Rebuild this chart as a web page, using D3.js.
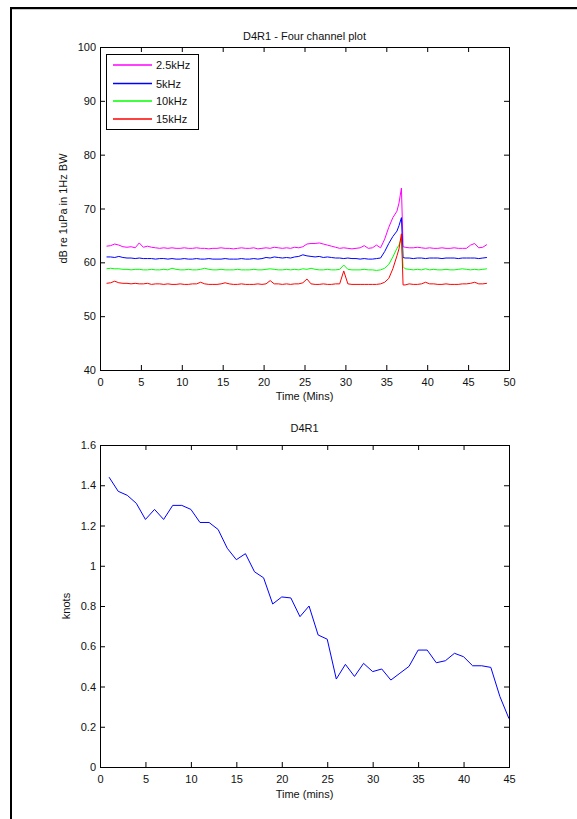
<!DOCTYPE html>
<html><head><meta charset="utf-8">
<script src="https://cdn.jsdelivr.net/npm/d3@7"></script>
<style>
html,body{margin:0;padding:0;background:#fff;}
svg{display:block;}
text{font-family:"Liberation Sans",Arial,Helvetica,sans-serif;fill:#111;}
</style></head><body>
<svg id="chart" width="577" height="819"></svg>
<script>
// ---------- Top plot data ----------
const topTitle = "D4R1 - Four channel plot";
const seriesNames = ["2.5kHz", "5kHz", "10kHz", "15kHz"];
const seriesColors = ["#ff00ff", "#0000ff", "#00ff00", "#ff0000"];
// sample times (minutes): regular grid, finer points around the spike
const timeA = d3.range(0.8, 36.31, 0.5);
const timeSpike = [36.55, 36.85, 37.05];
const timeB = d3.range(37.3, 47.31, 0.5);
const timeTop = timeA.concat(timeSpike, timeB);

const pink = [63.0,63.1,63.4,63.2,62.9,62.8,62.9,62.7,63.6,62.8,63.0,62.8,62.7,62.6,62.7,62.6,62.7,62.6,62.6,62.7,
  62.6,62.6,62.7,62.6,62.6,62.5,62.6,62.6,62.7,62.6,62.6,62.5,62.6,62.7,62.6,62.6,62.7,62.5,62.6,62.7,
  62.6,62.8,62.7,62.6,62.7,62.6,62.8,62.7,62.9,63.4,63.5,63.5,63.6,63.4,63.2,63.0,62.8,62.6,62.7,62.6,
  62.5,62.6,62.7,63.1,62.6,62.7,63.2,62.7,64.3,66.5,68.3,69.5,
  71.0,73.8,62.9,
  62.8,62.7,62.7,62.8,62.7,62.6,62.7,62.6,62.6,62.7,62.6,62.6,62.7,62.6,62.6,62.6,63.2,63.5,62.7,62.8,63.3];
const blue = [61.0,61.0,60.9,61.1,60.9,60.8,60.8,60.7,60.8,60.7,60.7,60.7,60.6,60.7,60.7,60.6,60.7,60.6,60.6,60.7,
  60.6,60.6,60.7,60.6,60.6,60.7,60.6,60.6,60.6,60.7,60.6,60.6,60.6,60.7,60.6,60.6,60.7,60.6,60.7,60.9,
  60.8,61.0,60.9,60.8,60.9,60.8,61.0,61.1,61.4,61.2,61.1,61.0,61.1,60.9,61.0,60.9,60.8,60.8,60.7,60.8,
  60.7,60.7,60.6,60.7,60.6,60.6,60.7,60.8,62.0,63.5,64.8,65.8,
  66.8,68.3,60.9,
  60.8,60.8,60.7,60.8,60.8,60.7,60.8,60.8,60.8,60.7,60.8,60.8,60.8,60.7,60.8,60.8,60.8,60.8,60.7,60.8,60.9];
const green = [58.8,58.9,58.8,58.8,58.7,58.7,58.6,58.7,58.7,58.6,58.6,58.7,58.6,58.6,58.7,58.6,58.9,58.7,58.6,58.6,
  58.7,58.6,58.6,58.7,58.9,58.7,58.6,58.6,58.7,58.6,58.6,58.6,58.7,58.6,58.6,58.6,58.7,58.6,58.6,58.7,
  58.8,58.7,58.6,58.6,58.7,58.6,58.7,58.6,58.8,58.7,58.9,58.7,58.6,58.6,58.7,58.6,58.6,58.7,59.5,58.7,
  58.6,58.6,58.6,58.7,58.6,58.6,58.5,58.6,58.9,59.6,61.0,62.6,
  63.2,64.5,59.2,
  58.8,58.7,58.6,58.7,58.6,58.8,58.6,58.7,58.6,58.6,58.7,58.6,58.6,58.7,58.8,58.7,58.6,58.7,58.6,58.7,58.8];
const red = [56.1,56.2,56.5,56.2,56.1,56.1,56.0,56.1,56.0,56.0,56.1,55.9,56.0,56.0,55.9,56.0,55.9,55.9,56.0,55.9,
  55.9,56.0,56.0,56.3,56.0,55.9,55.9,55.9,56.0,56.2,56.0,55.9,55.9,56.0,55.9,55.9,55.9,56.0,55.9,56.0,
  56.6,56.0,56.0,55.9,56.0,55.9,56.0,56.0,56.2,56.9,56.0,55.9,55.9,56.0,55.9,55.9,56.0,56.0,58.4,56.0,
  55.9,55.9,55.9,55.9,55.9,55.9,55.9,56.0,56.3,57.0,58.8,61.2,
  62.5,65.3,55.8,
  55.8,56.0,55.9,55.9,56.0,56.3,56.0,56.0,55.9,55.9,56.0,55.9,55.9,55.9,56.0,56.0,56.1,56.3,56.0,56.0,56.1];
const topSeries = [pink, blue, green, red];
const topXTicks = [0,5,10,15,20,25,30,35,40,45,50];
const topYTicks = [40,50,60,70,80,90,100];

// ---------- Bottom plot data ----------
const bottomTitle = "D4R1";
const timeBottom = [1,2,3,4,5,6,7,8,9,10,11,12,13,14,15,16,17,18,19,20,21,22,23,24,25,26,27,28,29,30,31,32,33,34,35,36,37,38,39,40,41,42,43,44,45];
const knots = [1.44,1.37,1.35,1.31,1.23,1.28,1.23,1.30,1.30,1.28,1.215,1.215,1.18,1.087,1.03,1.06,0.97,0.94,0.81,0.845,
  0.84,0.747,0.80,0.656,0.635,0.437,0.51,0.45,0.515,0.474,0.487,0.432,0.466,0.50,0.581,0.581,0.518,0.528,0.565,0.548,
  0.503,0.503,0.495,0.35,0.24];
const botXTicks = [0,5,10,15,20,25,30,35,40,45];
const botYTicks = [0,0.2,0.4,0.6,0.8,1,1.2,1.4,1.6];

// ---------- Drawing ----------
const svg = d3.select("#chart");

// outer figure frame (partial, as in screenshot)
svg.append("line").attr("x1",11).attr("x2",577).attr("y1",9.5).attr("y2",9.5).attr("stroke","#c8c8c8").attr("stroke-width",1);
svg.append("line").attr("x1",11).attr("x2",577).attr("y1",8).attr("y2",8).attr("stroke","#000").attr("stroke-width",2);
svg.append("line").attr("x1",11).attr("x2",11).attr("y1",7).attr("y2",819).attr("stroke","#000").attr("stroke-width",2);

function drawAxesBox(g, x, y, xTicks, yTicks, yFmt) {
  const [x0, x1] = x.range();
  const [y0, y1] = y.range(); // y0 bottom, y1 top
  const tl = 5;
  g.append("g").attr("transform", `translate(0,${y0})`)
    .call(d3.axisBottom(x).tickValues(xTicks).tickSize(-tl).tickPadding(tl+3).tickFormat(d3.format("d")))
    .call(a => { a.select(".domain").remove(); a.selectAll("text").attr("font-size", 11).attr("fill","#111"); a.selectAll("line").attr("stroke","#000"); });
  g.append("g").attr("transform", `translate(0,${y1})`)
    .call(d3.axisTop(x).tickValues(xTicks).tickSize(-tl).tickFormat(""))
    .call(a => { a.select(".domain").remove(); a.selectAll("line").attr("stroke","#000"); });
  g.append("g").attr("transform", `translate(${x0},0)`)
    .call(d3.axisLeft(y).tickValues(yTicks).tickSize(-tl).tickPadding(4).tickFormat(yFmt))
    .call(a => { a.select(".domain").remove(); a.selectAll("text").attr("font-size", 11).attr("fill","#111"); a.selectAll("line").attr("stroke","#000"); });
  g.append("g").attr("transform", `translate(${x1},0)`)
    .call(d3.axisRight(y).tickValues(yTicks).tickSize(-tl).tickFormat(""))
    .call(a => { a.select(".domain").remove(); a.selectAll("line").attr("stroke","#000"); });
  g.append("rect").attr("x", x0+0.5).attr("y", y1+0.5).attr("width", x1-x0).attr("height", y0-y1)
    .attr("fill","none").attr("stroke","#000").attr("stroke-width",1);
}

// Top plot
const xTop = d3.scaleLinear().domain([0,50]).range([100,509]);
const yTop = d3.scaleLinear().domain([40,100]).range([370,47]);
const gTop = svg.append("g");
const lineTop = d3.line().x((d,i)=>xTop(timeTop[i])).y(d=>yTop(d));
topSeries.forEach((s, k) => {
  gTop.append("path").datum(s).attr("d", lineTop).attr("fill","none")
    .attr("stroke", seriesColors[k]).attr("stroke-width", 1).attr("stroke-linejoin","round");
});
drawAxesBox(gTop, xTop, yTop, topXTicks, topYTicks, d3.format("d"));
gTop.append("text").attr("x", 304.5).attr("y", 40).attr("text-anchor","middle").attr("font-size",11).text(topTitle);
gTop.append("text").attr("x", 304.5).attr("y", 400).attr("text-anchor","middle").attr("font-size",11).text("Time (Mins)");
gTop.append("text").attr("transform","translate(67,208.5) rotate(-90)").attr("text-anchor","middle").attr("font-size",11).text("dB re 1uPa in 1Hz BW");

// legend
const leg = gTop.append("g");
leg.append("rect").attr("x",106.5).attr("y",54.5).attr("width",92).attr("height",75)
  .attr("fill","#fff").attr("stroke","#000").attr("stroke-width",1);
const legRowY = [65, 83.5, 101, 119];
seriesNames.forEach((n,k)=>{
  leg.append("line").attr("x1",113).attr("x2",152).attr("y1",legRowY[k]).attr("y2",legRowY[k])
    .attr("stroke",seriesColors[k]).attr("stroke-width",1.4);
  leg.append("text").attr("x",156).attr("y",legRowY[k]+4).attr("font-size",11).text(n);
});

// Bottom plot
const xBot = d3.scaleLinear().domain([0,45]).range([100,509]);
const yBot = d3.scaleLinear().domain([0,1.6]).range([767,445]);
const gBot = svg.append("g");
const lineBot = d3.line().x((d,i)=>xBot(timeBottom[i])).y(d=>yBot(d));
gBot.append("path").datum(knots).attr("d", lineBot).attr("fill","none")
  .attr("stroke","#0000ff").attr("stroke-width",1).attr("stroke-linejoin","round");
drawAxesBox(gBot, xBot, yBot, botXTicks, botYTicks, d3.format("~g"));
gBot.append("text").attr("x", 304.5).attr("y", 432).attr("text-anchor","middle").attr("font-size",11).text(bottomTitle);
gBot.append("text").attr("x", 304.5).attr("y", 798).attr("text-anchor","middle").attr("font-size",11).text("Time (mins)");
gBot.append("text").attr("transform","translate(70,606) rotate(-90)").attr("text-anchor","middle").attr("font-size",11).text("knots");
</script>
</body></html>
